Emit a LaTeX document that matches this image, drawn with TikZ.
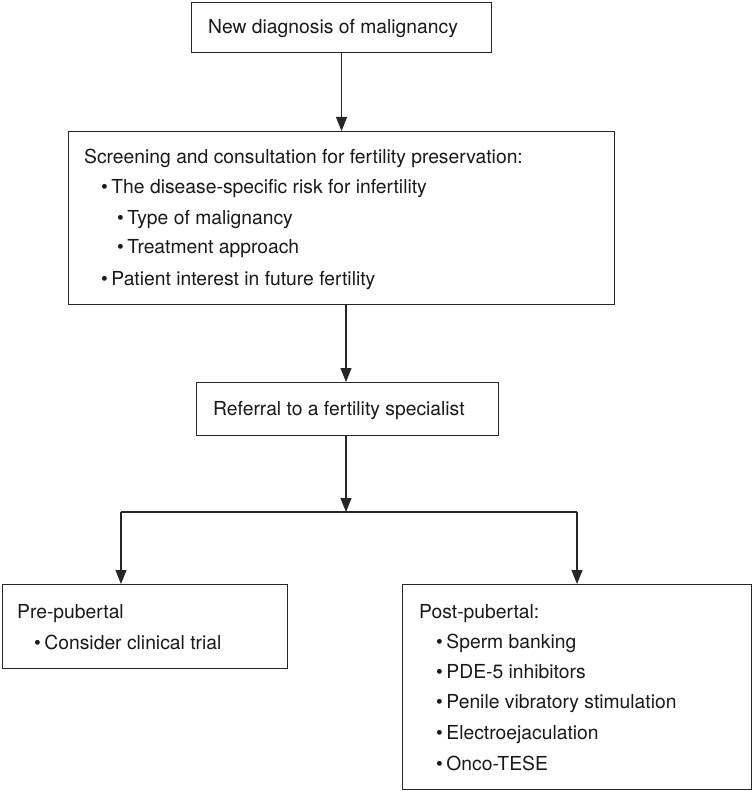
\documentclass[tikz,border=0pt]{standalone}
\usepackage{fontspec}
\setmainfont{TeX Gyre Heros}
\usetikzlibrary{arrows.meta}
\newcommand{\mybul}{\textbullet\hspace{3.5pt}}
\begin{document}
\begin{tikzpicture}[x=1pt,y=-1pt,
  box/.style={draw=black!85, line width=1.1pt, fill=white, rectangle, anchor=north west, inner sep=0pt},
  txt/.style={anchor=base west, inner sep=0pt, font=\fontsize{19.3}{30}\selectfont, text=black!90},
  conn/.style={draw=black!85, line width=1.1pt},
  arr/.style={conn, -{Triangle[length=14pt,width=11pt]}}]
\useasboundingbox (0,0) rectangle (754,791);
% boxes
\node[box, minimum width=300pt, minimum height=50pt] (b1) at (191,2) {};
\node[box, minimum width=546pt, minimum height=173pt] (b2) at (68,131) {};
\node[box, minimum width=302pt, minimum height=53pt] (b3) at (196,382) {};
\node[box, minimum width=285pt, minimum height=84pt] (b4) at (2,584) {};
\node[box, minimum width=349pt, minimum height=205pt] (b5) at (402,584) {};
% texts
\node[txt] (t1) at (208,34) {New diagnosis of malignancy};
\node[txt] (t2a) at (84,164) {Screening and consultation for fertility preservation:};
\node[txt] (t2b) at (101,194) {\mybul The disease-specific risk for infertility};
\node[txt] (t2c) at (117,225) {\mybul Type of malignancy};
\node[txt] (t2d) at (117,254) {\mybul Treatment approach};
\node[txt] (t2e) at (101,285) {\mybul Patient interest in future fertility};
\node[txt] (t3) at (213,415) {Referral to a fertility specialist};
\node[txt] (t4a) at (17,618) {Pre-pubertal};
\node[txt] (t4b) at (34,649) {\mybul Consider clinical trial};
\node[txt] (t5a) at (419,618) {Post-pubertal:};
\node[txt] (t5b) at (436,648) {\mybul Sperm banking};
\node[txt] (t5c) at (436,678) {\mybul PDE-5 inhibitors};
\node[txt] (t5d) at (436,708) {\mybul Penile vibratory stimulation};
\node[txt] (t5e) at (436,739) {\mybul Electroejaculation};
\node[txt] (t5f) at (436,770) {\mybul Onco-TESE};
% connectors
\coordinate (j) at (346,512);
\coordinate (jl) at (121,512);
\coordinate (jr) at (577,512);
\draw[arr] (b1.south) -- (b1.south |- b2.north);
\draw[arr] (b2.south -| j) -- (b3.north -| j);
\draw[arr] (b3.south -| j) -- (j);
\draw[conn] (jl) -- (jr);
\draw[arr] (jl) -- (jl |- b4.north);
\draw[arr] (jr) -- (jr |- b5.north);
\end{tikzpicture}
\end{document}
